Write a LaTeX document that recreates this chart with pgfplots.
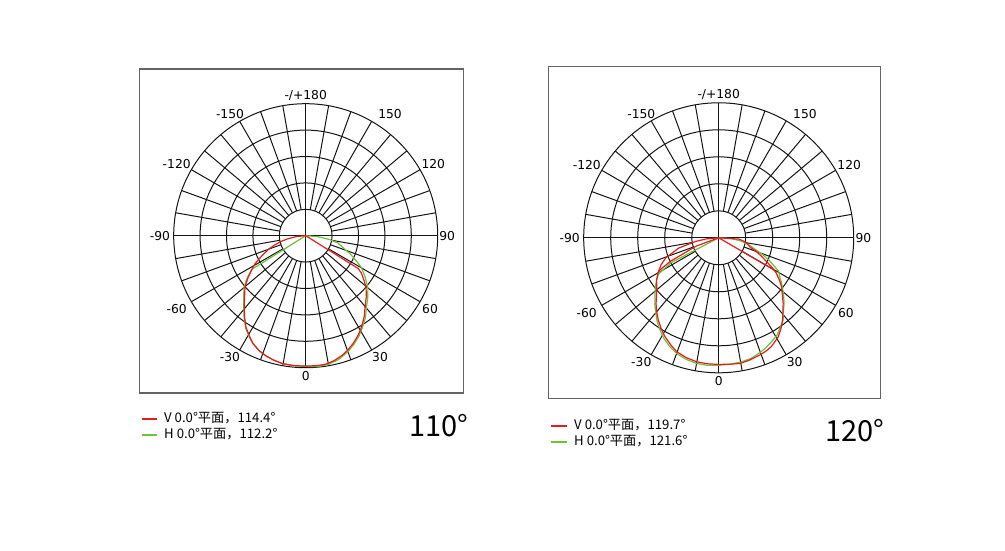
\documentclass[border=0pt]{standalone}
\usepackage{fontspec}
\usepackage{pgfplots}
\usepackage{pgfplotstable}
\pgfplotsset{compat=1.18}
\setmainfont{DejaVu Sans}
\newfontfamily\cjk{Noto Sans CJK SC}

\definecolor{curvered}{RGB}{228,30,30}
\definecolor{curvegreen}{RGB}{112,192,58}
\definecolor{gridc}{RGB}{20,20,20}
\definecolor{framec}{RGB}{100,100,100}

% angle from the downward 0 direction (positive to the right), relative intensity
\pgfplotstableread{
t r
-90 0
-85 0.07
-80 0.14
-77 0.19
-73 0.25
-70 0.30
-65 0.37
-61 0.44
-58 0.48
-54 0.54
-50 0.60
-45 0.655
-41 0.71
-37 0.77
-33 0.83
-29 0.875
-26 0.91
-22 0.94
-18 0.96
-14 0.975
-10 0.985
-5 0.988
0 0.988
5 0.988
9 0.985
13 0.97
17 0.947
20 0.925
24 0.89
28 0.85
31.5 0.81
36 0.755
40 0.70
45 0.65
49.6 0.60
53 0.55
56 0.51
58 0.47
90 0
}\leftV

\pgfplotstableread{
t r
-90 0
-58 0.48
-54 0.55
-50 0.61
-45 0.665
-41 0.715
-37 0.775
-33 0.835
-29 0.88
-26 0.91
-22 0.94
-18 0.96
-14 0.975
-10 0.985
-5 0.99
0 0.99
5 0.995
10 0.99
15 0.97
20 0.935
24 0.90
28 0.86
31.5 0.82
36 0.77
40 0.715
45 0.665
50 0.615
55 0.55
60 0.49
64 0.42
67.4 0.37
72 0.30
77.3 0.25
81 0.18
85.5 0.09
90 0
}\leftH

\pgfplotstableread{
t r
-90 0
-85 0.09
-81 0.175
-75.6 0.306
-69.2 0.42
-65 0.47
-61 0.51
-56 0.555
-51.7 0.585
-47 0.63
-43.7 0.672
-40 0.715
-36.3 0.756
-32 0.80
-28.5 0.834
-24 0.87
-20.2 0.90
-15 0.92
-10 0.933
-5 0.937
0 0.938
5 0.94
9.6 0.944
14 0.935
19.4 0.92
22.5 0.91
25.9 0.895
31 0.856
34.5 0.815
37.9 0.77
41 0.725
44.6 0.68
48 0.635
52.1 0.59
55 0.55
58.5 0.50
61 0.45
63.4 0.40
67 0.34
70.5 0.29
73.2 0.245
79.4 0.21
83 0.18
86.3 0.15
90 0
}\rightV

\pgfplotstableread{
t r
-61 0.51
-64 0.40
-69.7 0.18
-90 0
59.8 0.47
61 0.45
}\rightVb

\pgfplotstableread{
t r
-90 0
-62.4 0.40
-59 0.52
-55 0.565
-51.7 0.60
-47 0.645
-43.7 0.685
-40 0.725
-36.3 0.77
-32 0.815
-28.5 0.85
-24 0.885
-20 0.912
-15 0.932
-10 0.945
-5 0.948
0 0.945
5 0.94
10 0.935
15 0.925
19.4 0.905
22.5 0.89
26 0.87
31 0.84
34.5 0.805
38 0.775
41 0.73
44.6 0.69
48 0.648
52 0.60
55 0.565
58 0.53
60.8 0.51
63 0.46
66.2 0.405
69 0.35
72 0.29
76 0.24
81.3 0.175
86 0.10
90 0
}\rightH

% #1 centre, #2 hub radius (pt, number), #3 outer radius
\newcommand{\polargrid}[3]{%
  \begin{scope}[shift={#1}, draw=gridc, line width=1pt]
    \foreach \k in {1,...,5} \draw (0,0) circle[radius=\k*#2pt];
    \foreach \a in {0,10,...,350} \draw (\a:#2pt) -- (\a:#3pt);
    \draw (-#3pt,0) -- (#3pt,0);
    \draw (0,-#3pt) -- (0,#3pt);
  \end{scope}}

% #1 centre, #2 scale
\newcommand{\polarlabels}[2]{%
  \begin{scope}[shift={#1}, scale=#2,
      every node/.style={font=\fontsize{12.3}{14}\selectfont, inner sep=0pt, text=black}]
    \node at (0pt,139.7pt) {-/+180};
    \node at (84.3pt,121.4pt) {150};
    \node at (127.6pt,71.4pt) {120};
    \node at (141.5pt,0pt) {90};
    \node at (124.3pt,-73.3pt) {60};
    \node at (74.3pt,-121.6pt) {30};
    \node at (0pt,-140.3pt) {0};
    \node at (-75.7pt,-121.6pt) {-30};
    \node at (-129pt,-73.3pt) {-60};
    \node at (-145.7pt,0pt) {-90};
    \node at (-129pt,71.4pt) {-120};
    \node at (-75.7pt,121.4pt) {-150};
  \end{scope}}

\begin{document}
\begin{tikzpicture}
\path[use as bounding box] (0,0) rectangle (1005pt,550pt);

% frames
\draw[framec, line width=1.3pt] (139.5pt,157pt) rectangle (463.5pt,481pt);
\draw[framec, line width=1.3pt] (548.7pt,151.7pt) rectangle (880.7pt,483.3pt);

% grids and angle labels
\polargrid{(305.7pt,314.3pt)}{26.4}{132}
\polargrid{(718.7pt,312.2pt)}{27}{135}
\polarlabels{(305.7pt,314.3pt)}{1}
\polarlabels{(718.7pt,312.2pt)}{1.0227}

% left chart curves
\begin{axis}[at={(305.7pt,314.3pt)}, anchor=center, x=132pt, y=132pt,
  xmin=-1.1, xmax=1.1, ymin=-1.1, ymax=1.1, hide axis, clip=false]
\addplot[curvegreen, line width=1.2pt, data cs=polar] table[x expr=\thisrow{t}-90, y=r] {\leftH};
\addplot[curvered, line width=1.2pt, data cs=polar] table[x expr=\thisrow{t}-90, y=r] {\leftV};
\end{axis}

% right chart curves
\begin{axis}[at={(718.7pt,312.2pt)}, anchor=center, x=135pt, y=135pt,
  xmin=-1.1, xmax=1.1, ymin=-1.1, ymax=1.1, hide axis, clip=false]
\addplot[curvegreen, line width=1.2pt, data cs=polar] table[x expr=\thisrow{t}-90, y=r] {\rightH};
\addplot[curvered, line width=1.2pt, data cs=polar] table[x expr=\thisrow{t}-90, y=r] {\rightV};
\addplot[curvered, line width=1.2pt, data cs=polar] table[x expr=\thisrow{t}-90, y=r] {\rightVb};
\end{axis}

% legends (key lines aligned to whole pixels)
\fill[curvered] (142pt,130pt) rectangle (157pt,132pt);
\fill[curvegreen] (142pt,114pt) rectangle (157pt,116pt);
\node[anchor=base west, inner sep=0pt, font=\cjk\fontsize{13.2}{15}\selectfont] at (164pt,127.3pt) {V 0.0°平面，114.4°};
\node[anchor=base west, inner sep=0pt, font=\cjk\fontsize{13.2}{15}\selectfont] at (164pt,111.7pt) {H 0.0°平面，112.2°};

\fill[curvered] (551pt,123pt) rectangle (567pt,125pt);
\fill[curvegreen] (551pt,107pt) rectangle (567pt,109pt);
\node[anchor=base west, inner sep=0pt, font=\cjk\fontsize{13.2}{15}\selectfont] at (574pt,120.7pt) {V 0.0°平面，119.7°};
\node[anchor=base west, inner sep=0pt, font=\cjk\fontsize{13.2}{15}\selectfont] at (574pt,104.3pt) {H 0.0°平面，121.6°};

% beam angle captions
\node[anchor=base, inner sep=0pt, font=\cjk\fontsize{29}{32}\selectfont] at (438.8pt,114pt) {110°};
\node[anchor=base, inner sep=0pt, font=\cjk\fontsize{29}{32}\selectfont] at (855pt,108.3pt) {120°};
\end{tikzpicture}
\end{document}
